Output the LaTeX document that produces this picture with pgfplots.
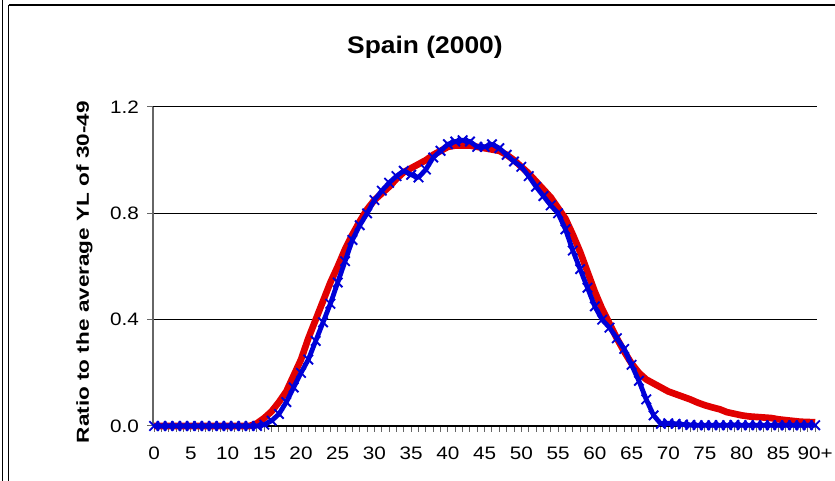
\documentclass[border=0pt]{standalone}
\usepackage{pgfplots}
\usepackage{pgfplotstable}
\usepackage{graphicx}
\usepackage{fontspec}
\setmainfont{Liberation Sans}
\pgfplotsset{compat=1.18}
\definecolor{myred}{RGB}{225,0,0}
\definecolor{myblue}{RGB}{0,0,215}

\pgfplotstableread{
age red
0 0
1 0
2 0
3 0
4 0
5 0
6 0
7 0
8 0
9 0
10 0
11 0
12 0
13 0
14 0.01
15 0.03
16 0.055
17 0.09
18 0.13
19 0.19
20 0.25
21 0.33
22 0.40
23 0.47
24 0.54
25 0.60
26 0.665
27 0.72
28 0.77
29 0.815
30 0.85
31 0.875
32 0.90
33 0.93
34 0.955
35 0.97
36 0.985
37 1.00
38 1.02
39 1.035
40 1.05
41 1.055
42 1.055
43 1.055
44 1.05
45 1.045
46 1.04
47 1.035
48 1.02
49 1.00
50 0.975
51 0.95
52 0.92
53 0.89
54 0.86
55 0.82
56 0.78
57 0.72
58 0.655
59 0.58
60 0.505
61 0.44
62 0.385
63 0.33
64 0.28
65 0.235
66 0.20
67 0.175
68 0.16
69 0.145
70 0.13
71 0.12
72 0.11
73 0.10
74 0.088
75 0.078
76 0.07
77 0.063
78 0.052
79 0.046
80 0.04
81 0.036
82 0.034
83 0.032
84 0.03
85 0.025
86 0.022
87 0.019
88 0.016
89 0.015
90 0.014
}\redtable

\pgfplotstableread{
age blue
0 0
1 0
2 0
3 0
4 0
5 0
6 0
7 0
8 0
9 0
10 0
11 0
12 0
13 0
14 0
15 0.005
16 0.02
17 0.045
18 0.09
19 0.145
20 0.20
21 0.25
22 0.32
23 0.39
24 0.46
25 0.54
26 0.62
27 0.70
28 0.755
29 0.80
30 0.85
31 0.885
32 0.915
33 0.94
34 0.96
35 0.945
36 0.935
37 0.965
38 1.01
39 1.035
40 1.06
41 1.07
42 1.075
43 1.07
44 1.05
45 1.05
46 1.06
47 1.045
48 1.02
49 0.995
50 0.975
51 0.94
52 0.90
53 0.865
54 0.83
55 0.80
56 0.74
57 0.66
58 0.59
59 0.52
60 0.45
61 0.40
62 0.37
63 0.33
64 0.29
65 0.23
66 0.17
67 0.10
68 0.04
69 0.008
70 0.01
71 0.008
72 0.006
73 0.004
74 0.003
75 0.003
76 0.003
77 0.003
78 0.003
79 0.004
80 0.003
81 0.003
82 0.003
83 0.003
84 0.003
85 0.003
86 0.003
87 0.003
88 0.003
89 0.003
90 0.003
}\bluetable

\begin{document}
\begin{tikzpicture}
\path[use as bounding box] (0,0) rectangle (626.25pt,360.75pt);
\draw[line width=0.9pt] (2pt,0) -- (2pt,360.75pt);
\draw[line width=0.9pt] (6.5pt,0) -- (6.5pt,357pt);
\draw[line width=1.3pt] (6.5pt,357pt) -- (626.25pt,357pt);
\begin{axis}[
  at={(114.75pt,41.25pt)}, anchor=south west,
  scale only axis, width=498pt, height=239.25pt,
  xmin=-0.15, xmax=90.25, ymin=0, ymax=1.2,
  clip=false,
  axis x line=bottom, axis y line=left, axis line style={-},
  x axis line style={black, line width=0.9pt},
  y axis line style={gray!80!black, line width=1.1pt},
  ymajorgrids, major grid style={black, line width=0.75pt},
  ytick={0,0.4,0.8,1.2},
  yticklabel style={/pgf/number format/fixed, /pgf/number format/fixed zerofill, /pgf/number format/precision=1, xshift=-2pt, xscale=1.15},
  xtick={0,5,...,90},
  xticklabels={0,5,10,15,20,25,30,35,40,45,50,55,60,65,70,75,80,85,90+},
  minor x tick num=4,
  tick align=outside,
  major tick length=4.5pt, minor tick length=4.5pt,
  tick style={gray!80!black, line width=0.75pt},
  xticklabel style={yshift=-8pt, xscale=1.15},
  tick label style={font=\fontsize{13.5}{15}\selectfont},
  /pgf/number format/assume math mode=true,
  title={\scalebox{1.1}[1]{Spain (2000)}},
  title style={at={(axis description cs:0.4096,1.144)}, anchor=base, font=\fontsize{18}{20}\selectfont\bfseries},
  ylabel={\scalebox{1.3}[1]{Ratio to the average YL of 30-49}},
  ylabel style={at={(axis description cs:-0.0964,0.482)}, anchor=base, font=\fontsize{13}{15}\selectfont\bfseries},
]
\addplot[color=myred, line width=5pt, no marks, line join=round] table[x=age, y=red] {\redtable};
\addplot[color=myblue, line width=3.6pt, line join=round, mark=x, mark size=5pt, mark options={line width=1.4pt, solid}] table[x=age, y=blue] {\bluetable};
\end{axis}
\end{tikzpicture}
\end{document}
